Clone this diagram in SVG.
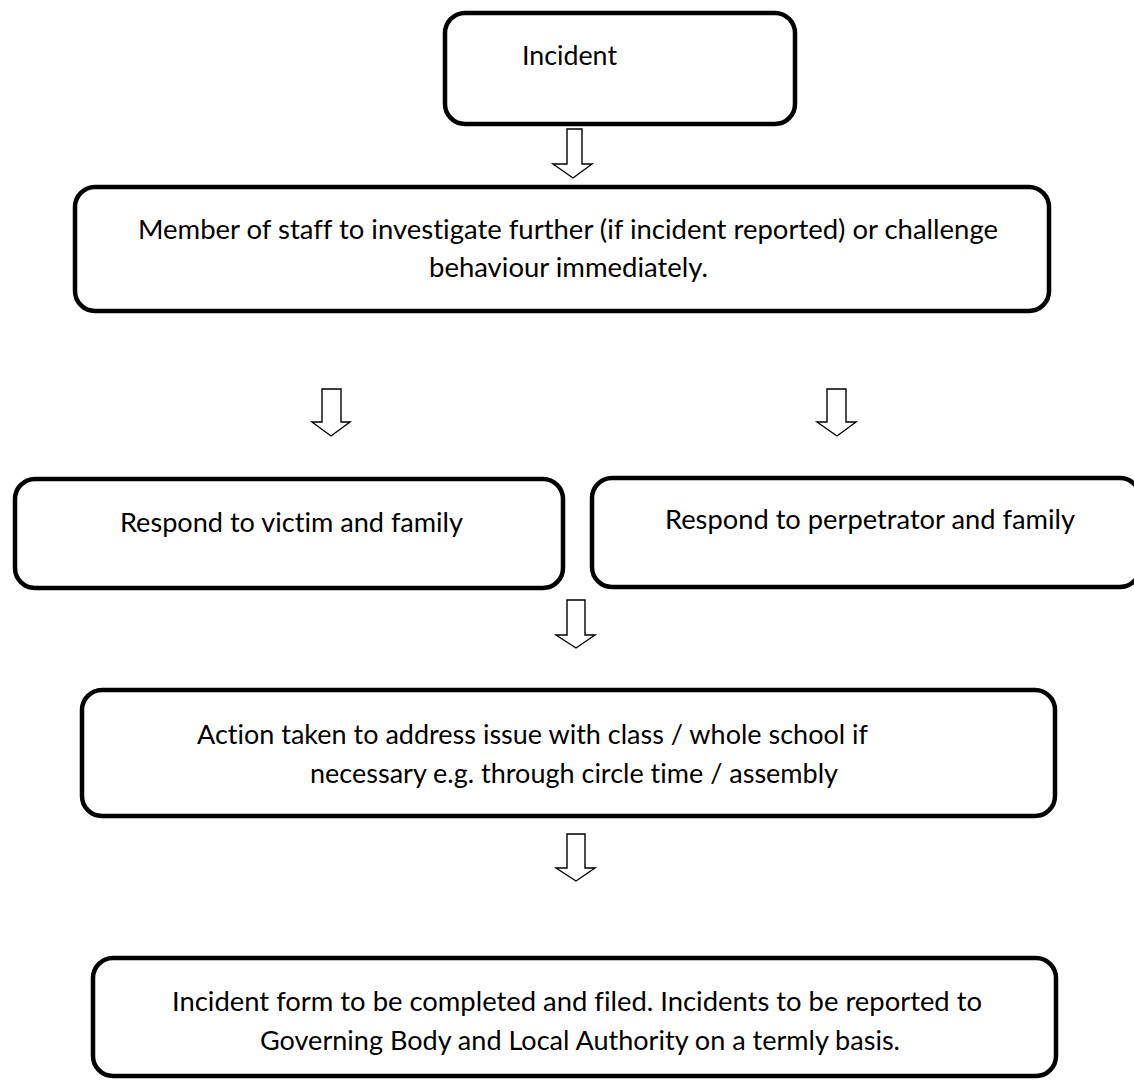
<svg xmlns="http://www.w3.org/2000/svg" width="1134" height="1080" viewBox="0 0 1134 1080">
<style>
.box{fill:#fff;stroke:#000;stroke-width:4.5}
.arr{fill:#fff;stroke:#000;stroke-width:1.4;stroke-linejoin:miter}
.t{font-family:Lato,"Liberation Sans",Arial,sans-serif;font-size:26.5px;fill:#000;font-variant-ligatures:none;font-feature-settings:"liga" 0,"clig" 0}
</style>
<rect width="1134" height="1080" fill="#fff"/>
<g id="n1"><rect class="box" x="445" y="13" width="350" height="111" rx="20"/>
<text class="t" x="522" y="65" textLength="95" lengthAdjust="spacingAndGlyphs">Incident</text></g>
<g id="n2"><rect class="box" x="75" y="187" width="974" height="124" rx="20"/>
<text class="t" x="138" y="239" textLength="860" lengthAdjust="spacingAndGlyphs">Member of staff to investigate further (if incident reported) or challenge</text>
<text class="t" x="429" y="277" textLength="279" lengthAdjust="spacingAndGlyphs">behaviour immediately.</text></g>
<g id="n3"><rect class="box" x="15" y="479" width="548" height="109" rx="20"/>
<text class="t" x="120" y="532" textLength="343" lengthAdjust="spacingAndGlyphs">Respond to victim and family</text></g>
<g id="n4"><rect class="box" x="592" y="478" width="548" height="109" rx="20"/>
<text class="t" x="665" y="529" textLength="410" lengthAdjust="spacingAndGlyphs">Respond to perpetrator and family</text></g>
<g id="n5"><rect class="box" x="82" y="690" width="973" height="126" rx="20"/>
<text class="t" x="197" y="744" textLength="671" lengthAdjust="spacingAndGlyphs">Action taken to address issue with class / whole school if</text>
<text class="t" x="310" y="783" textLength="528" lengthAdjust="spacingAndGlyphs">necessary e.g. through circle time / assembly</text></g>
<g id="n6"><rect class="box" x="93" y="958" width="963" height="118" rx="20"/>
<text class="t" x="172" y="1011" textLength="810" lengthAdjust="spacingAndGlyphs">Incident form to be completed and filed. Incidents to be reported to</text>
<text class="t" x="260" y="1050" textLength="640" lengthAdjust="spacingAndGlyphs">Governing Body and Local Authority on a termly basis.</text></g>
<g id="connectors">
<path class="arr" d="M567,129 H582 V164 H592 L573,178 L553,164 H567 Z"/>
<path class="arr" d="M322,389 H341 V422 H350 L331,436 L312,422 H322 Z"/>
<path class="arr" d="M827,389 H846 V422 H856 L837,436 L817,422 H827 Z"/>
<path class="arr" d="M567,600 H585 V635 H595 L576,648 L556,635 H567 Z"/>
<path class="arr" d="M567,834 H585 V868 H595 L576,881 L556,868 H567 Z"/>
</g>
</svg>
